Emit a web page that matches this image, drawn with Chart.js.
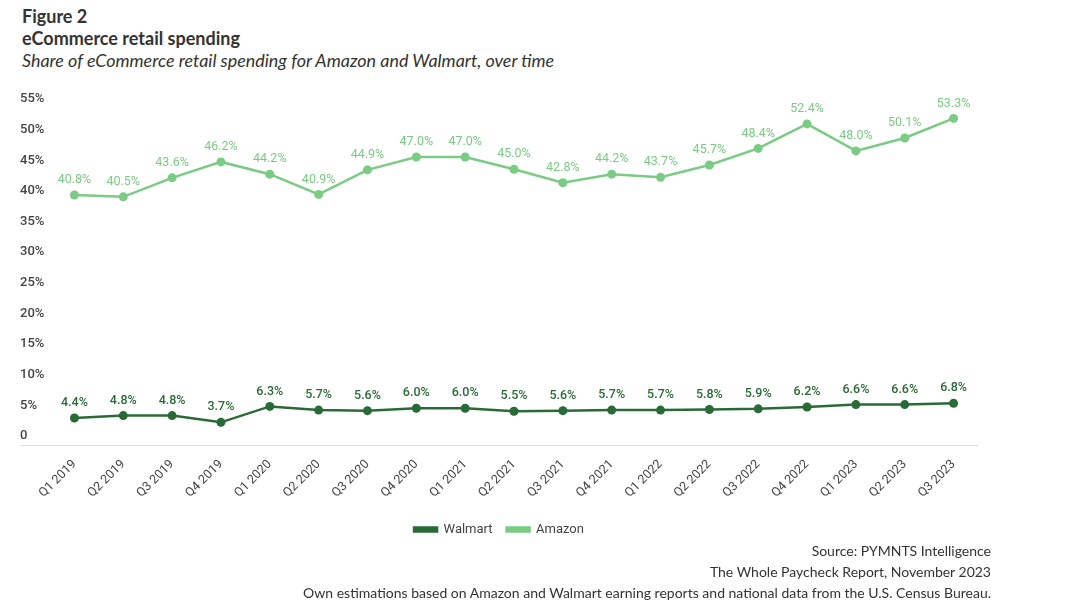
<!DOCTYPE html>
<html>
<head>
<meta charset="utf-8">
<script src="https://cdn.jsdelivr.net/npm/chart.js@4.4.0/dist/chart.umd.min.js"></script>
<style>
  body { margin: 0; width: 1080px; height: 612px; background: #fff; position: relative; overflow: hidden; }
  .head { position: absolute; left: 22px; top: 5px; font-family: Lato, sans-serif; color: #333; }
  .head .fig { font-weight: bold; font-size: 18px; line-height: 22px; }
  .head .sub { font-style: italic; font-size: 17.9px; line-height: 22px; }
  #wrap { position: absolute; left: 0; top: 80px; width: 1080px; height: 466px; }
  .src { position: absolute; right: 89px; top: 540px; font-family: Lato, sans-serif; font-size: 14px; line-height: 21px; color: #333; text-align: right; }
</style>
</head>
<body>
<div class="head">
  <div class="fig">Figure 2</div>
  <div class="fig">eCommerce retail spending</div>
  <div class="sub">Share of eCommerce retail spending for Amazon and Walmart, over time</div>
</div>
<div id="wrap"><canvas id="chart"></canvas></div>
<div class="src">
  Source: PYMNTS Intelligence<br>
  The Whole Paycheck Report, November 2023<br>
  Own estimations based on Amazon and Walmart earning reports and national data from the U.S. Census Bureau.
</div>
<script>
// Quarters on the x axis
const quarters = ["Q1 2019", "Q2 2019", "Q3 2019", "Q4 2019", "Q1 2020", "Q2 2020", "Q3 2020", "Q4 2020",
    "Q1 2021", "Q2 2021", "Q3 2021", "Q4 2021", "Q1 2022", "Q2 2022", "Q3 2022", "Q4 2022",
    "Q1 2023", "Q2 2023", "Q3 2023"];

// Share of eCommerce retail spending (%)
const walmart = [4.4, 4.8, 4.8, 3.7, 6.3, 5.7, 5.6, 6.0, 6.0, 5.5, 5.6, 5.7, 5.7, 5.8, 5.9, 6.2, 6.6, 6.6, 6.8];
const amazon = [40.8, 40.5, 43.6, 46.2, 44.2, 40.9, 44.9, 47.0, 47.0, 45.0, 42.8, 44.2, 43.7, 45.7, 48.4, 52.4, 48.0, 50.1, 53.3];

const DARK = "#286b37";
const LIGHT = "#7acb83";

// Value labels above each point
const pointLabels = {
    id: "pointLabels",
    afterDatasetsDraw(chart) {
        const ctx = chart.ctx;
        ctx.save();
        ctx.textAlign = "center";
        ctx.textBaseline = "middle";
        chart.data.datasets.forEach((ds, i) => {
            const meta = chart.getDatasetMeta(i);
            ctx.fillStyle = ds.borderColor;
            ctx.font = i === 0 ? "500 12.5px Roboto" : "12.5px Roboto";
            meta.data.forEach((pt, j) => {
                ctx.fillText(ds.data[j].toFixed(1) + "%", pt.x, pt.y - 15);
            });
        });
        ctx.restore();
    }
};

// Bottom rule running under the y labels too
const baseRule = {
    id: "baseRule",
    beforeDatasetsDraw(chart) {
        const ctx = chart.ctx;
        const y = chart.scales.y.getPixelForValue(0);
        ctx.save();
        ctx.strokeStyle = "#dddddd";
        ctx.lineWidth = 1;
        ctx.beginPath();
        ctx.moveTo(20, y + 0.5);
        ctx.lineTo(chart.chartArea.right, y + 0.5);
        ctx.stroke();
        ctx.restore();
    }
};

new Chart(document.getElementById("chart"), {
    type: "line",
    data: {
        labels: quarters,
        datasets: [
            { label: "Walmart", data: walmart, borderColor: DARK, backgroundColor: DARK, pointBackgroundColor: DARK,
              borderWidth: 2.5, pointRadius: 4.5, pointBorderWidth: 0, tension: 0 },
            { label: "Amazon", data: amazon, borderColor: LIGHT, backgroundColor: LIGHT, pointBackgroundColor: LIGHT,
              borderWidth: 2.5, pointRadius: 4.5, pointBorderWidth: 0, tension: 0 }
        ]
    },
    options: {
        responsive: true,
        maintainAspectRatio: false,
        animation: false,
        layout: { padding: { left: 20, right: 102, top: 28, bottom: 0 } },
        plugins: {
            legend: {
                position: "bottom",
                labels: { color: "#444", font: { family: "Roboto", size: 13 }, boxWidth: 23, boxHeight: 4, padding: 14 }
            },
            tooltip: { enabled: false }
        },
        scales: {
            x: {
                offset: true,
                grid: { display: false },
                border: { display: false },
                ticks: { color: "#444", font: { family: "Roboto", size: 12.5 }, minRotation: 45, maxRotation: 45, padding: 4 },
                afterFit(axis) { axis.height = 64; }
            },
            y: {
                min: 0,
                max: 55,
                grid: { display: false },
                border: { display: false },
                ticks: {
                    stepSize: 5,
                    color: "#444",
                    font: { family: "Roboto", size: 13, weight: "500" },
                    crossAlign: "far",
                    labelOffset: -9,
                    padding: 0,
                    callback: v => v === 0 ? "0" : v + "%"
                },
                afterFit(axis) { axis.width = 30; }
            }
        }
    },
    plugins: [pointLabels, baseRule]
});
</script>
</body>
</html>
